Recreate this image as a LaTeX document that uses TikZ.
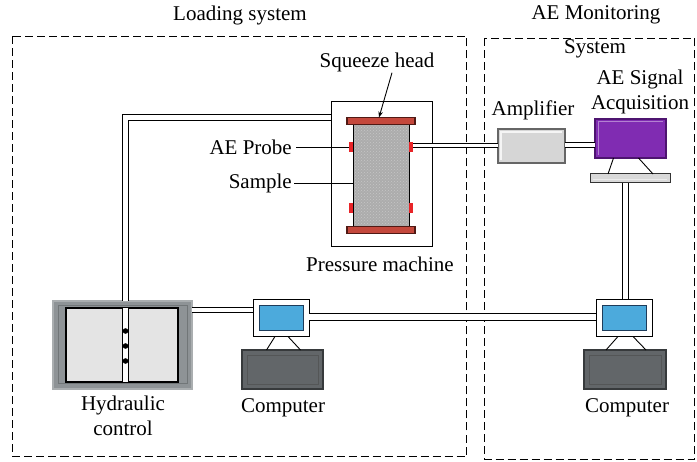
\documentclass[tikz,border=0pt]{standalone}
\usepackage{fontspec}
\setmainfont{Liberation Serif}
\usetikzlibrary{arrows.meta,patterns}

\definecolor{plateRed}{RGB}{196,72,60}
\definecolor{plateEdge}{RGB}{80,25,20}
\definecolor{probeRed}{RGB}{232,36,40}
\definecolor{acqPurple}{RGB}{128,44,178}
\definecolor{acqEdge}{RGB}{78,20,112}
\definecolor{screenBlue}{RGB}{76,170,220}
\definecolor{screenEdge}{RGB}{30,60,90}
\definecolor{baseGray}{RGB}{98,102,105}
\definecolor{baseEdge}{RGB}{55,58,60}
\definecolor{hydGray}{RGB}{142,147,150}
\definecolor{panelGray}{RGB}{228,228,228}
\definecolor{ampGray}{RGB}{214,214,214}

\tikzset{
  lbl/.style={font=\fontsize{21}{25}\selectfont, inner sep=0pt, align=center},
  blk/.style={draw, inner sep=0pt, outer sep=0pt},
  sysbox/.style={draw, line width=1pt, dash pattern=on 8pt off 4pt},
  pipe/.style={draw=black, line width=1pt, double=white, double distance=#1},
  pipe/.default=4pt,
  plate/.style={blk, fill=plateRed, draw=plateEdge, line width=1.2pt, minimum width=68pt, minimum height=7pt},
  probe/.style={blk, draw=none, fill=probeRed, minimum width=4.5pt, minimum height=10pt},
  monframe/.style={blk, fill=white, line width=1pt, minimum width=56pt, minimum height=37pt},
  screen/.style={blk, fill=screenBlue, draw=screenEdge, line width=1pt, minimum width=44pt, minimum height=25pt},
  pcbase/.style={blk, fill=baseGray, draw=baseEdge, line width=1.5pt, minimum height=39pt},
  leader/.style={draw, line width=0.9pt}
}

\begin{document}
\begin{tikzpicture}[x=1pt,y=-1pt]
\useasboundingbox (0,0) rectangle (697,462);

% system outlines
\draw[sysbox] (12.5,36.5) rectangle (466.5,456.5);
\draw[sysbox] (484.5,38.5) rectangle (694.5,459.5);
\node[lbl] (loadlbl) at (240,15) {Loading system};
\node[lbl] (aelbl) at (596,15) {AE Monitoring};
\node[lbl] (syslbl) at (595,49) {System};

% pressure machine with sample
\node[blk, fill=white, line width=1pt, minimum width=101pt, minimum height=145pt] (press) at (381.5,174.5) {};
\node[blk, fill={rgb,255:red,172;green,172;blue,172}, line width=1pt, minimum width=56pt, minimum height=103pt] (sample) at (381,175.5) {};
\fill[pattern=crosshatch dots, pattern color=white!55!gray] (sample.north west) rectangle (sample.south east);
\draw[line width=1pt] (sample.north west) rectangle (sample.south east);
\node[plate] (topplate) at (381,121) {};
\node[plate] (botplate) at (381,230) {};
\node[probe] (pl1) at (351,147) {};
\node[probe] (pl2) at (351,208) {};
\node[probe] (pr1) at (411,147) {};
\node[probe] (pr2) at (411,208) {};

\node[lbl] (sqlbl) at (377,62) {Squeeze head};
\node[lbl, anchor=east] (probelbl) at (292,147) {AE Probe};
\node[lbl, anchor=east] (samplelbl) at (292,183) {Sample};
\node[lbl] (presslbl) at (380,264) {Pressure machine};
\draw[line width=0.9pt, -{Stealth[length=6pt,width=4.5pt]}] ([xshift=15pt,yshift=-1pt]sqlbl.south) -- ([xshift=-2pt]topplate.north);
\draw[leader] ([xshift=4pt]probelbl.east) -- (pl1.west);
\draw[leader] ([xshift=2pt]samplelbl.east) -- (samplelbl.east -| sample.west);

% amplifier and acquisition unit
\node[blk, fill=ampGray, draw=gray!80!black, line width=1.6pt, minimum width=67pt, minimum height=34pt] (amp) at (531.5,146) {};
\draw[white!92!gray, line width=1.2pt] ([shift={(3pt,3pt)}]amp.south west) -- ([shift={(3pt,-3pt)}]amp.north west) -- ([shift={(-3pt,-3pt)}]amp.north east);
\node[lbl] (amplbl) at (533,110) {Amplifier};
\node[blk, fill=acqPurple, draw=acqEdge, line width=1.6pt, minimum width=71pt, minimum height=39pt] (acq) at (630.5,138.5) {};
\draw[acqPurple!60!white, line width=1pt] ([shift={(3pt,3pt)}]acq.south west) -- ([shift={(3pt,-3pt)}]acq.north west) -- ([shift={(-3pt,-3pt)}]acq.north east);
\node[lbl] (acqlbl) at (640,92) {AE Signal\\Acquisition};
\node[blk, fill=gray!30, draw=gray!40!black, line width=1pt, minimum width=80pt, minimum height=9pt] (stand) at (630,178.5) {};
\draw[white!85!gray, line width=1pt] ([shift={(3pt,3pt)}]stand.south west) -- ([shift={(-3pt,3pt)}]stand.south east);
\draw[leader] ([xshift=-17pt]acq.south) -- ([xshift=-22pt]stand.north);
\draw[leader] ([xshift=8pt]acq.south) -- ([xshift=23pt]stand.north);

% hydraulic control
\node[blk, fill=hydGray, draw=hydGray!75!white, line width=1.5pt, minimum width=139pt, minimum height=88pt] (hyd) at (122.5,345) {};
\draw[hydGray!80!black, line width=1pt] ([shift={(5pt,5pt)}]hyd.south west) rectangle ([shift={(-5pt,-5pt)}]hyd.north east);
\node[blk, fill=panelGray, line width=1.1pt, minimum width=112pt, minimum height=74pt] (panel) at (122,345) {};
\draw[pipe=5pt] ([xshift=3.5pt]panel.north) -- ([xshift=3.5pt]panel.south);
\foreach \yy in {331,346,361} \fill (125.5,\yy) circle (2.8pt);
\node[lbl] (hydlbl) at (123,416) {Hydraulic\\control};

% computers
\node[monframe] (monL) at (281,318) {};
\node[screen] (scrL) at (monL) {};
\node[pcbase, minimum width=81pt] (baseL) at (282.5,369.5) {};
\draw[baseEdge!60!gray, line width=0.8pt] ([shift={(5pt,5pt)}]baseL.south west) rectangle ([shift={(-5pt,-5pt)}]baseL.north east);
\draw[leader] ([xshift=-6pt]monL.south) -- ([xshift=-16pt]baseL.north);
\draw[leader] ([xshift=7pt]monL.south) -- ([xshift=18pt]baseL.north);
\node[lbl] (pcLlbl) at (283,408) {Computer};

\node[monframe] (monR) at (624,318) {};
\node[screen] (scrR) at (monR) {};
\node[pcbase, minimum width=82pt] (baseR) at (625,369.5) {};
\draw[baseEdge!60!gray, line width=0.8pt] ([shift={(5pt,5pt)}]baseR.south west) rectangle ([shift={(-5pt,-5pt)}]baseR.north east);
\draw[leader] ([xshift=-6pt]monR.south) -- ([xshift=-19pt]baseR.north);
\draw[leader] ([xshift=9pt]monR.south) -- ([xshift=21pt]baseR.north);
\node[lbl] (pcRlbl) at (627,408) {Computer};

% connecting lines
\coordinate (hydtop) at ([xshift=3pt]hyd.north);
\coordinate (pressin) at ([yshift=-15.5pt]press.north west);
\draw[pipe=5pt] (hydtop) |- (pressin);
\coordinate (probeout) at ([yshift=1.5pt]pr1.east);
\draw[pipe=3pt] (probeout) -- (probeout -| amp.west);
\coordinate (ampout) at ([yshift=1pt]amp.east);
\draw[pipe] (ampout) -- (ampout -| acq.west);
\coordinate (monRtop) at ([xshift=1.5pt]monR.north);
\draw[pipe=5pt] (monRtop) -- (monRtop |- stand.south);
\coordinate (pcLin) at ([yshift=-10.5pt]monL.north west);
\draw[pipe] (pcLin -| hyd.east) -- (pcLin);
\coordinate (pcLout) at ([yshift=1pt]monL.east);
\draw[pipe=6pt] (pcLout) -- (pcLout -| monR.west);

\end{tikzpicture}
\end{document}
